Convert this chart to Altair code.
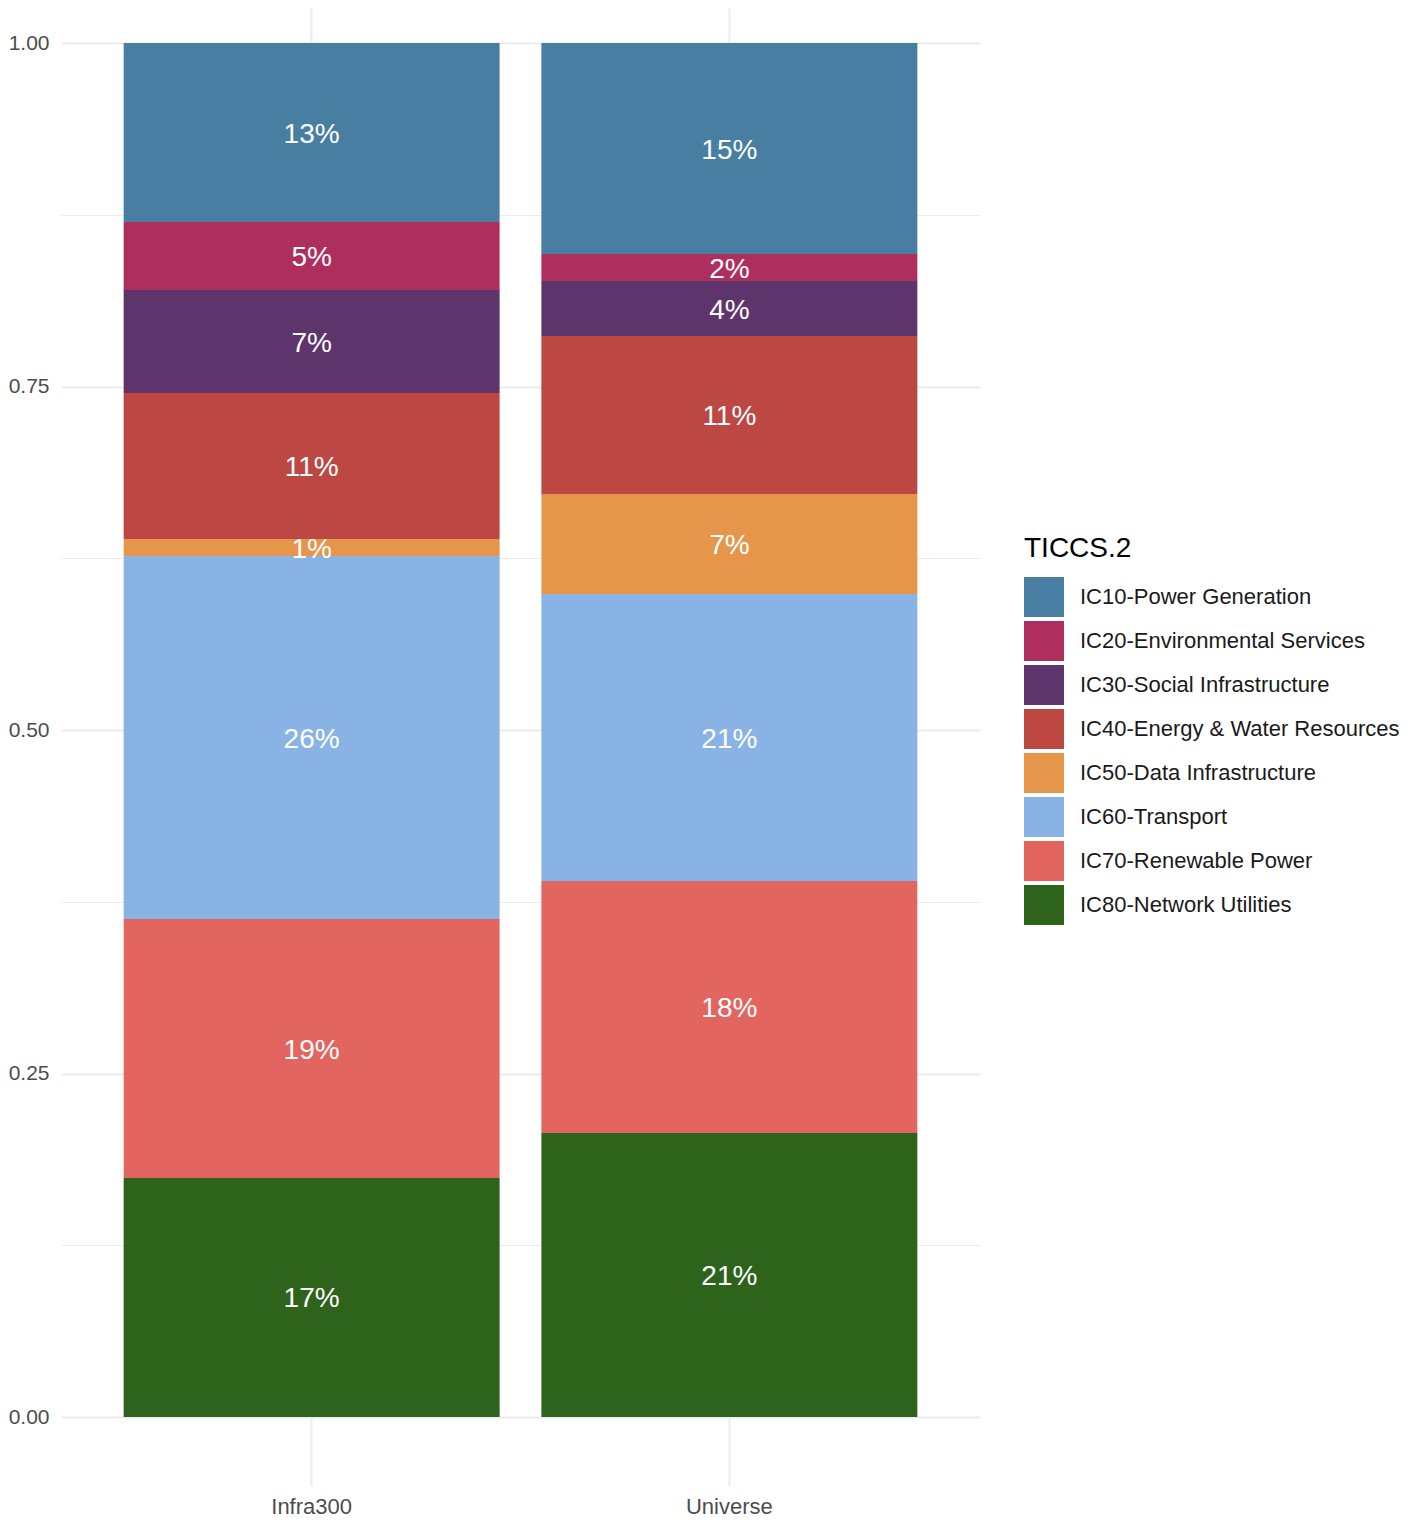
import altair as alt
import pandas as pd

groups = ["Infra300", "Universe"]
sectors = [
    "IC10-Power Generation",
    "IC20-Environmental Services",
    "IC30-Social Infrastructure",
    "IC40-Energy & Water Resources",
    "IC50-Data Infrastructure",
    "IC60-Transport",
    "IC70-Renewable Power",
    "IC80-Network Utilities",
]
infra300 = [0.1303, 0.0495, 0.0749, 0.1063, 0.0124, 0.2642, 0.1884, 0.1740]
universe = [0.1536, 0.0196, 0.0401, 0.1149, 0.0728, 0.2089, 0.1834, 0.2067]
colors = ["#487EA1", "#AE2F5E", "#5D356C", "#BC4743", "#E5964B", "#8AB3E5", "#E2655F", "#2D631B"]
y_ticks = [0, 0.125, 0.25, 0.375, 0.5, 0.625, 0.75, 0.875, 1.0]

rows = []
for g, vals in zip(groups, [infra300, universe]):
    for i, (s, v) in enumerate(zip(sectors, vals)):
        rows.append({"group": g, "sector": s, "rank": i, "value": v})
df = pd.DataFrame(rows)

FONT = "Liberation Sans"

base = (
    alt.Chart(df)
    .transform_stack(
        stack="value",
        groupby=["group"],
        sort=[alt.SortField(field="rank", order="descending")],
        as_=["y0", "y1"],
    )
    .transform_calculate(mid="(datum.y0 + datum.y1) / 2")
)

x_scale = alt.Scale(domain=groups, paddingInner=0.1, paddingOuter=0.15)
y_scale = alt.Scale(domain=[-0.0502, 1.0255], nice=False, zero=False)

x_axis = alt.Axis(
    title=None,
    labelAngle=0,
    grid=True,
    ticks=False,
    domain=False,
    bandPosition=0.5,
    gridColor="#EBEBEB",
    gridWidth=2,
    labelFontSize=22,
    labelFont=FONT,
    labelColor="#4D4D4D",
    labelPadding=10,
)

y_axis = alt.Axis(
    title=None,
    values=y_ticks,
    labelExpr="datum.value % 0.25 == 0 ? format(datum.value, '.2f') : ''",
    ticks=False,
    domain=False,
    grid=True,
    gridColor="#EBEBEB",
    gridWidth={"condition": {"test": "datum.value % 0.25 == 0", "value": 2}, "value": 1},
    labelFontSize=21,
    labelFont=FONT,
    labelColor="#4D4D4D",
    labelPadding=12,
    minExtent=53,
    maxExtent=53,
)

bars = base.mark_bar(strokeWidth=0).encode(
    x=alt.X("group:N", scale=x_scale, axis=x_axis),
    y=alt.Y("y0:Q", scale=y_scale, axis=y_axis),
    y2="y1:Q",
    color=alt.Color(
        "sector:N",
        scale=alt.Scale(domain=sectors, range=colors),
        legend=alt.Legend(
            title="TICCS.2",
            orient="none",
            legendX=963,
            legendY=527,
            titleFontSize=28,
            titleFont=FONT,
            titleFontWeight="normal",
            titleColor="#000000",
            titlePadding=14,
            labelFontSize=22,
            labelFont=FONT,
            labelColor="#1A1A1A",
            labelOffset=16,
            labelLimit=500,
            symbolType="square",
            symbolSize=1600,
            symbolStrokeWidth=0,
            symbolOpacity=1,
            rowPadding=4,
            padding=0,
        ),
    ),
)

labels = base.mark_text(
    color="white", fontSize=28, font=FONT, align="center", baseline="middle", dy=2
).encode(
    x=alt.X("group:N", scale=x_scale, axis=x_axis),
    y=alt.Y("mid:Q", scale=y_scale, axis=y_axis),
    text=alt.Text("value:Q", format=".0%"),
)

chart = (
    alt.layer(bars, labels)
    .properties(
        width=919,
        height=1478,
        background="white",
        padding={"left": 0, "top": 0, "right": 0, "bottom": 0},
    )
    .configure_view(strokeWidth=0, stroke=None)
)

chart.save("out.html", embed_options={"renderer": "svg", "actions": False})
